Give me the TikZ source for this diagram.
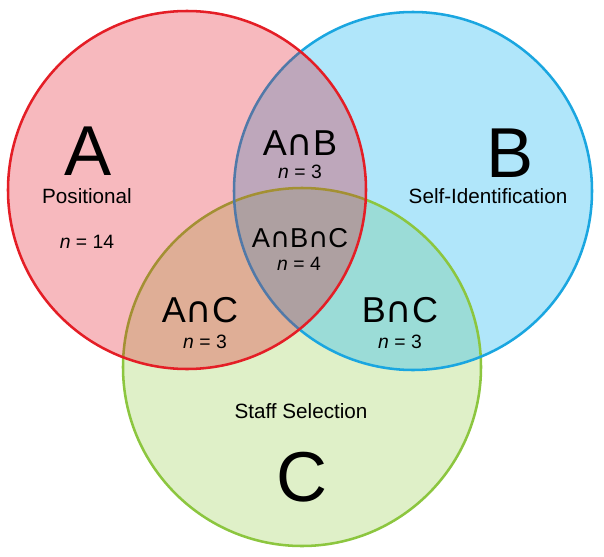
\documentclass[tikz,border=0pt]{standalone}
\usepackage{fontspec}
\setmainfont{Liberation Sans}
\newfontfamily\symf{DejaVu Sans}
\definecolor{afill}{RGB}{226,5,23}
\definecolor{bfill}{RGB}{36,186,242}
\definecolor{cfill}{RGB}{223,240,200}
\definecolor{aline}{RGB}{228,30,38}
\definecolor{bline}{RGB}{26,166,224}
\definecolor{cline}{RGB}{140,198,63}
\newcommand{\intsec}{{\symf ∩}}
\tikzset{
  bigletter/.style={font=\fontsize{53}{53}\selectfont, inner sep=0pt},
  setname/.style={font=\fontsize{15.5}{18}\selectfont, inner sep=0pt},
  nlabel/.style={font=\fontsize{14.5}{17}\selectfont, inner sep=0pt},
  pairlabel/.style={font=\fontsize{27}{30}\selectfont, inner sep=0pt},
  triplelabel/.style={font=\fontsize{20.5}{23}\selectfont, inner sep=0pt},
  ring/.style={line width=1.9pt}
}
\begin{document}
\begin{tikzpicture}[x=0.75pt,y=-0.75pt]
\useasboundingbox (0,0) rectangle (604,557);
\coordinate (ca) at (187,190);
\coordinate (cb) at (413,191);
\coordinate (cc) at (302,367);
% fills
\fill[cfill] (cc) circle[radius=134.25pt];
\fill[bfill, fill opacity=0.36] (cb) circle[radius=134.25pt];
\draw[ring, cline] (cc) circle[radius=134.25pt];
\draw[ring, bline] (cb) circle[radius=134.25pt];
\fill[afill, fill opacity=0.28] (ca) circle[radius=134.25pt];
\draw[ring, aline] (ca) circle[radius=134.25pt];
% labels
\node[bigletter] (la) at (88,151) {A};
\node[setname] (pa) at (87,196) {Positional};
\node[nlabel] (na) at (87,242) {\itshape n\upshape{} = 14};
\node[bigletter] (lb) at (510,153) {B};
\node[setname] (pb) at (488,196) {Self-Identification};
\node[bigletter] (lc) at (302,477) {C};
\node[setname] (pc) at (301,411) {Staff Selection};
\node[pairlabel] (lab) at (300,143) {A\intsec B};
\node[nlabel] (nab) at (300,172) {\itshape n\upshape{} = 3};
\node[triplelabel] (labc) at (300,238) {A\intsec B\intsec C};
\node[nlabel] (nabc) at (299,264) {\itshape n\upshape{} = 4};
\node[pairlabel] (lac) at (200,310) {A\intsec C};
\node[nlabel] (nac) at (205,342) {\itshape n\upshape{} = 3};
\node[pairlabel] (lbc) at (400,310) {B\intsec C};
\node[nlabel] (nbc) at (400,342) {\itshape n\upshape{} = 3};
\end{tikzpicture}
\end{document}
